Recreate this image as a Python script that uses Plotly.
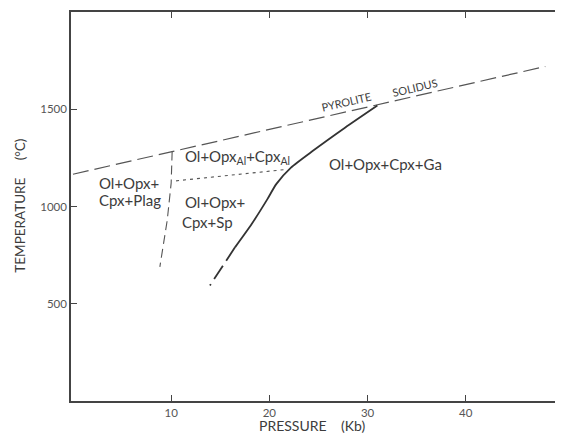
import plotly.graph_objects as go

# Pyrolite solidus (dashed)
solidus_p = [0.0, 10.0, 31.0, 48.1]
solidus_t = [1166, 1281, 1522, 1720]

# Plagioclase / spinel boundary (dashed)
plag_p = [10.1, 10.0, 9.6, 8.85]
plag_t = [1283, 1120, 930, 690]

# Al-content line (dotted)
al_p = [10.5, 21.8]
al_t = [1132, 1191]

# Spinel / garnet boundary (solid) and its dashed extension
garnet_p = [31.0, 27.7, 24.4, 22.2, 20.7, 19.8, 18.2, 16.5]
garnet_t = [1519, 1405, 1285, 1200, 1115, 1038, 910, 790]
garnet_ext_p = [16.5, 13.95]
garnet_ext_t = [790, 594]

x_ticks = [10, 20, 30, 40]
y_ticks = [500, 1000, 1500]

field_labels = ["Ol+Opx+", "Cpx+Plag", "Ol+Opx<sub>Al</sub>+Cpx<sub>Al</sub>",
                "Ol+Opx+", "Cpx+Sp", "Ol+Opx+Cpx+Ga"]
field_p = [2.45, 2.45, 11.2, 11.2, 10.9, 25.9]
field_t = [1120, 1033, 1252, 1022, 922, 1219]

curve_labels = ["PYROLITE", "SOLIDUS"]
curve_p = [27.9, 34.8]
curve_t = [1540, 1610]

INK = "#3c3c3c"
FONT = "Lato"

fig = go.Figure()
fig.add_trace(go.Scatter(x=solidus_p, y=solidus_t, mode="lines",
                         line=dict(color="#555", width=1.2, dash="16px,6px")))
fig.add_trace(go.Scatter(x=plag_p, y=plag_t, mode="lines",
                         line=dict(color="#555", width=1.1, dash="9px,5px")))
fig.add_trace(go.Scatter(x=al_p, y=al_t, mode="lines",
                         line=dict(color="#555", width=1.1, dash="3px,4px")))
fig.add_trace(go.Scatter(x=garnet_p, y=garnet_t, mode="lines",
                         line=dict(color="#333", width=1.8, shape="spline", smoothing=0.6)))
fig.add_trace(go.Scatter(x=garnet_ext_p, y=garnet_ext_t, mode="lines",
                         line=dict(color="#333", width=1.8, dash="16px,6px")))

for txt, p, t in zip(field_labels, field_p, field_t):
    fig.add_annotation(x=p, y=t, text=txt, showarrow=False, xanchor="left",
                       yanchor="middle", font=dict(family=FONT, size=15, color=INK))

for txt, p, t in zip(curve_labels, curve_p, curve_t):
    fig.add_annotation(x=p, y=t, text=txt, showarrow=False, textangle=-13,
                       font=dict(family=FONT, size=11, color=INK))

fig.add_annotation(xref="paper", yref="paper", x=0.491, y=-0.062, yanchor="middle",
                   text="PRESSURE&nbsp;&nbsp;&nbsp;&nbsp;(Kb)", showarrow=False,
                   font=dict(family=FONT, size=14, color=INK))
fig.add_annotation(xref="paper", yref="paper", x=-0.104, y=0.502, xanchor="center",
                   text="TEMPERATURE&nbsp;&nbsp;&nbsp;&nbsp;&nbsp;(°C)", showarrow=False,
                   textangle=-90, font=dict(family=FONT, size=13.5, color=INK))

axis_common = dict(showline=True, linecolor="#444", linewidth=1.5, mirror="ticks",
                   ticks="inside", ticklen=6, tickcolor="#444", tickwidth=1.2,
                   showgrid=False, zeroline=False,
                   tickfont=dict(family=FONT, size=11.5, color="#555"))

fig.update_xaxes(range=[-0.2, 49.8], tickvals=x_ticks, **axis_common)
fig.update_yaxes(range=[0, 2000], tickvals=y_ticks, **axis_common)

fig.update_layout(width=563, height=433, showlegend=False,
                  margin=dict(l=63, r=9, t=4, b=40, autoexpand=False),
                  paper_bgcolor="white", plot_bgcolor="white")

fig.write_html("out.html")
